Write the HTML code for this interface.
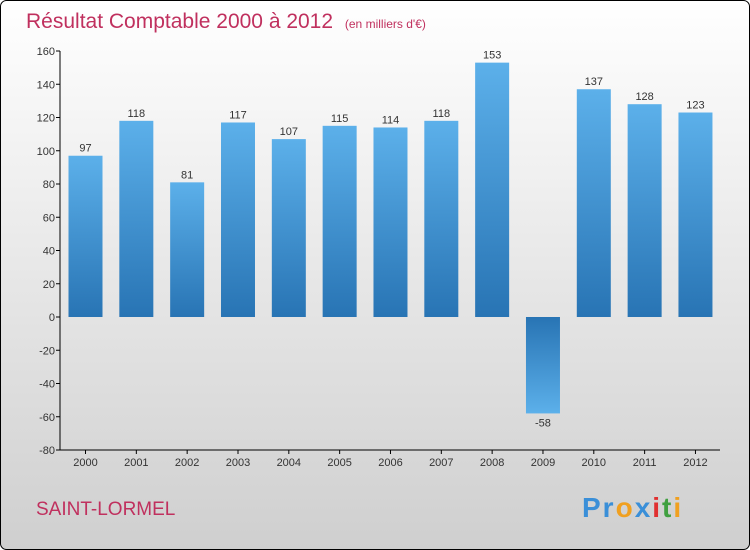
<!DOCTYPE html>
<html><head><meta charset="utf-8"><style>
body{margin:0;}
#c{width:750px;height:550px;position:relative;overflow:hidden;}
text{font-family:"Liberation Sans",sans-serif;}
</style></head><body>
<div id="c">
<svg id="s" width="750" height="550" xmlns="http://www.w3.org/2000/svg">
<defs>
<linearGradient id="bg" x1="0" y1="0" x2="0" y2="1"><stop offset="0" stop-color="#ffffff"/><stop offset="1" stop-color="#cfcfcf"/></linearGradient>
<linearGradient id="bp" x1="0" y1="0" x2="0" y2="1"><stop offset="0" stop-color="#5cb0ea"/><stop offset="1" stop-color="#2874b4"/></linearGradient>
<linearGradient id="bn" x1="0" y1="0" x2="0" y2="1"><stop offset="0" stop-color="#2874b4"/><stop offset="1" stop-color="#5cb0ea"/></linearGradient>
</defs>
<rect x="0.5" y="0.5" width="749" height="549" rx="6" fill="url(#bg)" stroke="#000"/>
<text x="26" y="28" font-size="21" fill="#c0305e">Résultat Comptable 2000 à 2012 <tspan font-size="12" dx="6">(en milliers d'€)</tspan></text>
<text x="36" y="515" font-size="19" fill="#c0305e">SAINT-LORMEL</text>
<text x="582" y="517" font-size="28" font-weight="bold" letter-spacing="2"><tspan fill="#3a8fd8">Pr</tspan><tspan fill="#f0a020">o</tspan><tspan fill="#3a8fd8">x</tspan><tspan fill="#e03030">i</tspan><tspan fill="#40a040">t</tspan><tspan fill="#f0a020">i</tspan></text>
<g id="g"></g>
</svg>
</div>
<script>
const years=["2000","2001","2002","2003","2004","2005","2006","2007","2008","2009","2010","2011","2012"];
const values=[97,118,81,117,107,115,114,118,153,-58,137,128,123];
const ticks=[-80,-60,-40,-20,0,20,40,60,80,100,120,140,160];
const NS="http://www.w3.org/2000/svg";
const g=document.getElementById('g');
const y=v=>317-v*33.25/20;
const x=i=>85.5+i*50.83;
function mk(t,a){const e=document.createElementNS(NS,t);for(const k in a)e.setAttribute(k,a[k]);g.appendChild(e);return e;}
const ax=mk('path',{d:`M60,${y(160)}V450H720`,stroke:'#000',fill:'none'});


ticks.forEach(t=>{
 const l=mk('line',{x1:56,x2:60,y1:y(t),y2:y(t),stroke:'#000'});
 
 
 const tx=mk('text',{x:55,y:y(t)+4,'font-size':11,'text-anchor':'end',fill:'#333'});
 tx.textContent=t;
 
 
});
years.forEach((yr,i)=>{
 const v=values[i],cx=x(i);
 const l=mk('line',{x1:cx,x2:cx,y1:450,y2:454,stroke:'#000'});
 
 
 const tl=mk('text',{x:cx,y:466,'font-size':11,'text-anchor':'middle',fill:'#333'});
 tl.textContent=yr;
 
 
 const top=Math.min(y(v),y(0)),h=Math.abs(y(v)-y(0));
 const b=mk('rect',{x:cx-17,y:top,width:34,height:h,fill:v>=0?'url(#bp)':'url(#bn)'});
 
 
 const vl=mk('text',{x:cx,y:v>=0?y(v)-4:y(v)+13,'font-size':11,'text-anchor':'middle',fill:'#333'});
 vl.textContent=v;
 
 
});
</script>
</body></html>
